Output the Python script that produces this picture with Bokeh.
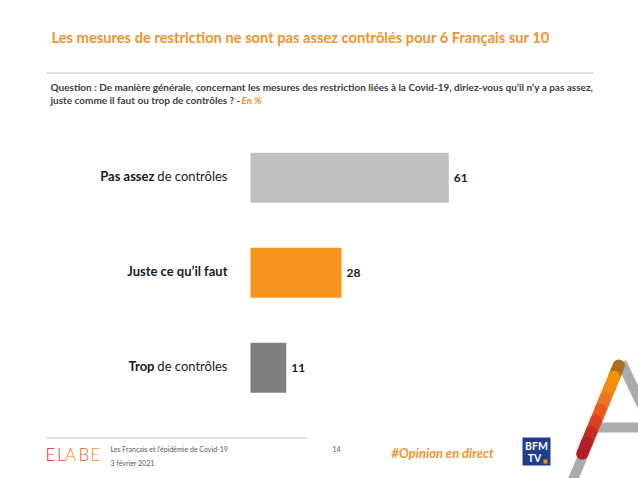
from bokeh.plotting import figure
from bokeh.models import Range1d, ColumnDataSource
from bokeh.core.properties import value
from bokeh.embed import file_html
from bokeh.resources import INLINE

# ---------------- data ----------------
cat_bold = ["Pas assez", "Juste ce qu’il faut", "Trop"]
cat_rest = ["de contrôles", "", "de contrôles"]
values = [61, 28, 11]
bar_colors = ["#BFBFBF", "#F7941D", "#7F7F7F"]

title_text = "Les mesures de restriction ne sont pas assez contrôlés pour 6 Français sur 10"
question_1 = "Question : De manière générale, concernant les mesures des restriction liées à la Covid-19, diriez-vous qu’il n’y a pas assez,"
question_2 = "juste comme il faut ou trop de contrôles ? -"
question_unit = "En %"
footer_study = "Les Français et l’épidémie de Covid-19"
footer_date = "3 février 2021"
footer_page = "14"
hashtag = "#Opinion en direct"

FONT = "Lato"
ORANGE = "#F0932F"
DARK = "#404040"

W, H = 638, 478
px_per_unit = 3.25
bar_start_px = 250  # pixel position of value 0

p = figure(width=W, height=H, output_backend="svg", toolbar_location=None,
           x_range=Range1d(-bar_start_px / px_per_unit, (W - bar_start_px) / px_per_unit),
           y_range=Range1d(3.165, -1.866),
           x_axis_location=None, y_axis_location=None, min_border=0,
           outline_line_color=None, background_fill_color="white",
           border_fill_color="white")
p.extra_x_ranges = {"px": Range1d(0, W)}
p.extra_y_ranges = {"px": Range1d(H, 0)}
p.grid.visible = False

# ---------------- bars ----------------
src = ColumnDataSource(dict(
    y=list(range(len(values))), v=values, c=bar_colors,
    lab=[str(v) for v in values], bold=cat_bold, rest=cat_rest,
    boff=[-23 - (73 if r else 0) for r in cat_rest],
))
p.hbar(y="y", left=0, right="v", height=0.526, color="c", line_color=None, source=src)
p.text(x="v", y="y", text="lab", x_offset=5, text_align="left", text_baseline="middle",
       text_font=value(FONT), text_font_style="bold", text_font_size="12px",
       text_color="#1A1A1A", source=src)
p.text(x=0, y="y", text="rest", x_offset=-23, y_offset=-2, text_align="right",
       text_baseline="middle", text_font=value(FONT), text_font_size="13px",
       text_color="#1A1A1A", source=src)
p.text(x=0, y="y", text="bold", x_offset="boff", y_offset=-2, text_align="right",
       text_baseline="middle", text_font=value(FONT), text_font_style="bold",
       text_font_size="13px", text_color="#1A1A1A", source=src)

# ---------------- header ----------------
def ptext(x, y, t, size, color, style="normal", align="left", font=FONT):
    p.text(x=[x], y=[y], text=[t], x_range_name="px", y_range_name="px",
           text_align=align, text_baseline="middle", text_font=value(font),
           text_font_style=style, text_font_size=size, text_color=color)

ptext(51, 36.5, title_text, "14.7px", ORANGE, "bold")
p.segment(x0=[46], y0=[72.5], x1=[593], y1=[72.5], x_range_name="px", y_range_name="px",
          line_color="#BFBFBF", line_width=1.2)
ptext(50, 86, question_1, "10px", DARK, "bold")
ptext(50, 99, question_2, "10px", DARK, "bold")
ptext(241, 99, question_unit, "10px", ORANGE, "bold italic")

# ---------------- footer ----------------
p.segment(x0=[46], y0=[437.5], x1=[307], y1=[437.5], x_range_name="px", y_range_name="px",
          line_color="#BFBFBF", line_width=1)
elabe_letters = ["E", "L", "A", "B", "E"]
elabe_x = [45, 56.5, 64.5, 78, 90]
elabe_col = ["#E3261C", "#E9481C", "#EF7A1C", "#EC5E1E", "#F29A1C"]
for lx, lt, lc in zip(elabe_x, elabe_letters, elabe_col):
    ptext(lx, 453.5, lt, "17px", lc, "normal", font="'Lato Light', Lato")
ptext(110, 448.5, footer_study, "7px", "#595959")
ptext(110, 462.5, footer_date, "7px", "#595959")
ptext(332, 448.5, footer_page, "7px", "#595959")
ptext(391, 452, hashtag, "13px", ORANGE, "bold italic")

# BFM TV logo
p.quad(left=[522], right=[550], top=[437], bottom=[465], x_range_name="px", y_range_name="px",
       fill_color="#213E8E", line_color=None)
ptext(536, 445, "BFM", "10.5px", "white", "bold", align="center")
ptext(534, 457.5, "TV", "10.5px", "white", "bold", align="center")
p.quad(left=[543], right=[547], top=[459], bottom=[463], x_range_name="px", y_range_name="px",
       fill_color="#F39200", line_color=None)

# stylised "A" logo
p.segment(x0=[621, 621, 590], y0=[362, 362, 427], x1=[566, 668, 640], y1=[495, 460, 427],
          x_range_name="px", y_range_name="px", line_color="#A6A6A6", line_width=10,
          line_alpha=0.95)
a_col = ["#A8701E", "#F39200", "#F28A10", "#EF7420", "#E85A1E", "#D8401F", "#C42C24", "#B21F28"]
n = len(a_col)
x_top, y_top, x_bot, y_bot = 618.3, 365.0, 581.7, 453.3
xs0 = [x_top + (x_bot - x_top) * i / n for i in range(n)]
ys0 = [y_top + (y_bot - y_top) * i / n for i in range(n)]
xs1 = [x_top + (x_bot - x_top) * (i + 1) / n for i in range(n)]
ys1 = [y_top + (y_bot - y_top) * (i + 1) / n for i in range(n)]
p.segment(x0=xs0, y0=ys0, x1=xs1, y1=ys1, x_range_name="px", y_range_name="px",
          line_color=a_col, line_width=12, line_cap="round")

open("out.html", "w").write(file_html(p, INLINE))
